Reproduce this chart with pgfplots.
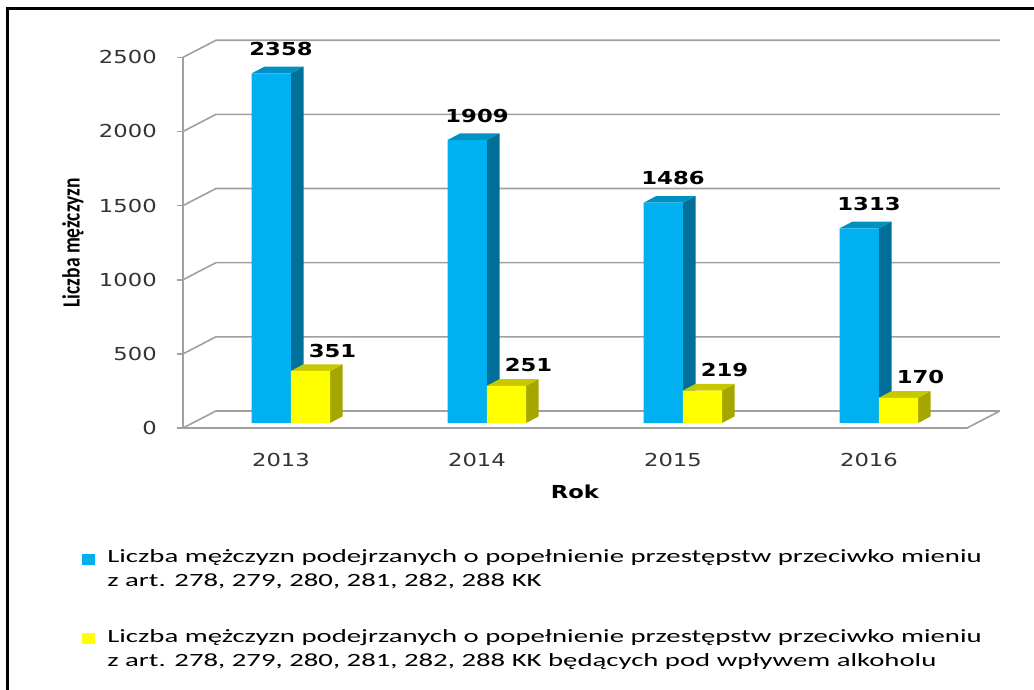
\documentclass[border=0pt]{standalone}
\usepackage{fontspec}
\setmainfont{Carlito}[FakeStretch=1.54]
\newfontfamily\verd{DejaVu Sans}[FakeStretch=1.27]
\newfontfamily\carl{Carlito}
\usepackage{pgfplots}
\pgfplotsset{compat=1.18}
\usepackage{graphicx}
\definecolor{bfront}{HTML}{00B0F0}
\definecolor{bside}{HTML}{00709A}
\definecolor{btop}{HTML}{0090C4}
\definecolor{yfront}{HTML}{FFFF00}
\definecolor{yside}{HTML}{A6A600}
\definecolor{ytop}{HTML}{C8C800}
\definecolor{gridc}{HTML}{A0A0A0}
\begin{document}
\begin{tikzpicture}
\useasboundingbox (0,0) rectangle (775.5pt,516.75pt);
\begin{scope}
\clip (0,0) rectangle (775.5pt,516.75pt);
\draw[line width=2.25pt] (5.25pt,-5pt) -- (5.25pt,510pt) -- (790pt,510pt);
\end{scope}
\begin{axis}[
  at={(137.25pt,195.75pt)}, anchor=south west,
  scale only axis, width=588pt, height=278pt,
  xmin=0, xmax=4, ymin=0, ymax=2500,
  clip=false,
  axis x line*=bottom, axis y line*=left,
  x axis line style={draw=none},
  y axis line style={gridc, line width=1.2pt},
  xtick={0.5,1.5,2.5,3.5},
  xticklabels={2013,2014,2015,2016},
  xtick style={draw=none},
  ytick={0,500,1000,1500,2000,2500},
  ytick style={gridc, line width=1.2pt},
  tick align=outside,
  major tick length=4.5pt,
  /pgf/number format/1000 sep={},
  /pgf/number format/assume math mode=true,
  yticklabel style={font=\verd\fontsize{13.4pt}{16pt}\selectfont, text=black!80, inner sep=0pt, anchor=east, xshift=-15pt},
  xticklabel style={font=\verd\fontsize{13.4pt}{16pt}\selectfont, text=black!80, inner sep=0pt, anchor=north, yshift=-13.9pt},
  xlabel={Rok},
  xlabel style={font=\verd\bfseries\fontsize{13.4pt}{16pt}\selectfont, at={(axis description cs:0.5,-0.1725)}, anchor=center},
  ylabel={\scalebox{1}[1.27]{\carl\bfseries\fontsize{14.6pt}{17pt}\selectfont Liczba mężczyzn}},
  every axis y label/.style={at={(axis description cs:-0.1403,0.5)}, rotate=90, anchor=center},
  legend style={at={(axis description cs:-0.1288,-0.32)}, anchor=north west, draw=none, fill=none, inner sep=0pt,
    font=\fontsize{14pt}{18pt}\selectfont, row sep=26.5pt, column sep=7pt,
    cells={anchor=west, align=left}},
  legend cell align=left,
]
% back wall grid and floor
\foreach \v in {0,500,1000,1500,2000,2500}{
  \edef\tmp{\noexpand\draw[gridc, line width=1.2pt] (axis cs:0,\v) -- (axis cs:0.168,\v+115) -- (axis cs:4.168,\v+115);}
  \tmp
}
\draw[gridc, line width=1.2pt] (axis cs:0,0) -- (axis cs:4,0) -- (axis cs:4.168,115);

% blue series 3D faces
\addplot[fill=bside, draw=none, forget plot, yshift=3.75pt] coordinates {(0.55,0) (0.615,45) (0.615,2403) (0.55,2358)};
\addplot[fill=btop, draw=none, forget plot, yshift=3.75pt] coordinates {(0.35,2358) (0.415,2403) (0.615,2403) (0.55,2358)};
\addplot[fill=bside, draw=none, forget plot, yshift=3.75pt] coordinates {(1.55,0) (1.615,45) (1.615,1954) (1.55,1909)};
\addplot[fill=btop, draw=none, forget plot, yshift=3.75pt] coordinates {(1.35,1909) (1.415,1954) (1.615,1954) (1.55,1909)};
\addplot[fill=bside, draw=none, forget plot, yshift=3.75pt] coordinates {(2.55,0) (2.615,45) (2.615,1531) (2.55,1486)};
\addplot[fill=btop, draw=none, forget plot, yshift=3.75pt] coordinates {(2.35,1486) (2.415,1531) (2.615,1531) (2.55,1486)};
\addplot[fill=bside, draw=none, forget plot, yshift=3.75pt] coordinates {(3.55,0) (3.615,45) (3.615,1358) (3.55,1313)};
\addplot[fill=btop, draw=none, forget plot, yshift=3.75pt] coordinates {(3.35,1313) (3.415,1358) (3.615,1358) (3.55,1313)};

% blue fronts
\addplot[ybar, bar width=0.2, bar shift=-0.05, fill=bfront, draw=none, yshift=3.75pt,
  nodes near coords,
  every node near coord/.append style={font=\verd\bfseries\fontsize{13.4pt}{16pt}\selectfont, text=black, anchor=south, inner sep=0pt, xshift=0pt, yshift=13pt},
  legend image code/.code={\fill[bfront] (0pt,-0.5pt) rectangle (9.75pt,7.75pt);}]
  coordinates {(0.5,2358) (1.5,1909) (2.5,1486) (3.5,1313)};
\addlegendentry{Liczba mężczyzn podejrzanych o popełnienie przestępstw przeciwko mieniu\\z art. 278, 279, 280, 281, 282, 288 KK}

% yellow series 3D faces
\addplot[fill=yside, draw=none, forget plot, yshift=3.75pt] coordinates {(0.75,0) (0.815,45) (0.815,396) (0.75,351)};
\addplot[fill=ytop, draw=none, forget plot, yshift=3.75pt] coordinates {(0.55,351) (0.615,396) (0.815,396) (0.75,351)};
\addplot[fill=yside, draw=none, forget plot, yshift=3.75pt] coordinates {(1.75,0) (1.815,45) (1.815,296) (1.75,251)};
\addplot[fill=ytop, draw=none, forget plot, yshift=3.75pt] coordinates {(1.55,251) (1.615,296) (1.815,296) (1.75,251)};
\addplot[fill=yside, draw=none, forget plot, yshift=3.75pt] coordinates {(2.75,0) (2.815,45) (2.815,264) (2.75,219)};
\addplot[fill=ytop, draw=none, forget plot, yshift=3.75pt] coordinates {(2.55,219) (2.615,264) (2.815,264) (2.75,219)};
\addplot[fill=yside, draw=none, forget plot, yshift=3.75pt] coordinates {(3.75,0) (3.815,45) (3.815,215) (3.75,170)};
\addplot[fill=ytop, draw=none, forget plot, yshift=3.75pt] coordinates {(3.55,170) (3.615,215) (3.815,215) (3.75,170)};

% yellow fronts
\addplot[ybar, bar width=0.2, bar shift=0.15, fill=yfront, draw=none, yshift=3.75pt,
  nodes near coords,
  every node near coord/.append style={font=\verd\bfseries\fontsize{13.4pt}{16pt}\selectfont, text=black, anchor=south, inner sep=0pt, xshift=38.6pt, yshift=10pt},
  legend image code/.code={\fill[yfront] (0pt,-0.5pt) rectangle (9.75pt,7.75pt);}]
  coordinates {(0.5,351) (1.5,251) (2.5,219) (3.5,170)};
\addlegendentry{Liczba mężczyzn podejrzanych o popełnienie przestępstw przeciwko mieniu\\z art. 278, 279, 280, 281, 282, 288 KK będących pod wpływem alkoholu}
\end{axis}
\end{tikzpicture}
\end{document}
